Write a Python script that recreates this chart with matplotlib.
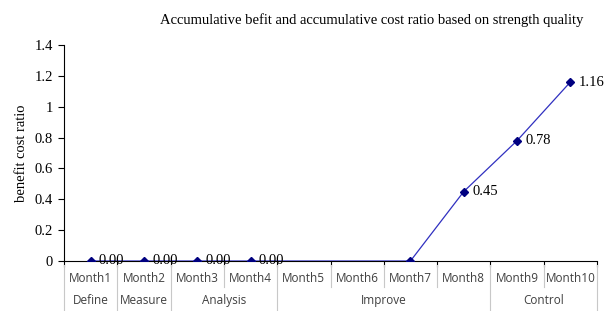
import numpy as np
import matplotlib.pyplot as plt
from matplotlib.lines import Line2D

months = ['Month1', 'Month2', 'Month3', 'Month4', 'Month5',
          'Month6', 'Month7', 'Month8', 'Month9', 'Month10']
phases = ['Define', 'Measure', 'Analysis', 'Improve', 'Control']
phase_len = [1, 1, 2, 4, 2]
ratio = [0.0, 0.0, 0.0, 0.0, np.nan, np.nan, 0.0, 0.45, 0.78, 1.16]
labelled = [True, True, True, True, False, False, False, True, True, True]
yticks = [0, 0.2, 0.4, 0.6, 0.8, 1.0, 1.2, 1.4]
ytick_labels = ['0', '0.2', '0.4', '0.6', '0.8', '1', '1.2', '1.4']

serif = ['Liberation Serif', 'DejaVu Serif']
sans = ['Open Sans', 'DejaVu Sans']

fig = plt.figure(figsize=(6.12, 3.11), dpi=100)
ax = fig.add_axes([0.1046, 0.1608, 0.8709, 0.6945])

x = np.arange(len(months))
y = np.array(ratio)
ok = ~np.isnan(y)
ax.plot(x[ok], y[ok], color='#3030c0', lw=0.9, marker='D', ms=4,
        mfc='#000080', mec='#000080', zorder=3)
for xi, yi, lab in zip(x, y, labelled):
    if lab:
        ax.annotate(f'{yi:.2f}', (xi, yi), xytext=(6, 0), textcoords='offset points',
                    va='center', ha='left', fontsize=10.5, family=serif)

ax.set_xlim(-0.5, len(months) - 0.5)
ax.set_ylim(0, 1.4)
ax.set_yticks(yticks)
ax.set_yticklabels(ytick_labels, family=serif, fontsize=10.5)
ax.tick_params(axis='y', direction='out', length=4, width=0.8, pad=4)
ax.set_xticks(np.arange(len(months) + 1) - 0.5)
ax.set_xticklabels([])
ax.tick_params(axis='x', direction='out', length=4, width=0.8)
for s in ['top', 'right']:
    ax.spines[s].set_visible(False)
ax.spines['left'].set_linewidth(0.8)
ax.spines['bottom'].set_linewidth(0.8)
ax.set_ylabel('benefit cost ratio', family=serif, fontsize=10.5, labelpad=5)

fig.text(0.607, 0.935, 'Accumulative befit and accumulative cost ratio based on strength quality',
         ha='center', va='center', family=serif, fontsize=10.5)

# two-level category axis
grey = '#c8c8c8'
trans = ax.get_xaxis_transform()
for i, m in enumerate(months):
    ax.text(i, -0.05, m, transform=trans, ha='center', va='top',
            fontsize=8.5, color='#404040', family=sans)
bounds = np.cumsum([0] + phase_len)
for p, a, b in zip(phases, bounds[:-1], bounds[1:]):
    ax.text((a + b - 1) / 2, -0.155, p, transform=trans, ha='center', va='top',
            fontsize=8.5, color='#404040', family=sans)
for k in range(len(months) + 1):
    xb = k - 0.5
    bottom = -0.24 if k in bounds else -0.12
    ax.add_line(Line2D([xb, xb], [-0.02, bottom], transform=trans, color=grey,
                       lw=0.8, clip_on=False))

fig.savefig('out.png', dpi=100)
